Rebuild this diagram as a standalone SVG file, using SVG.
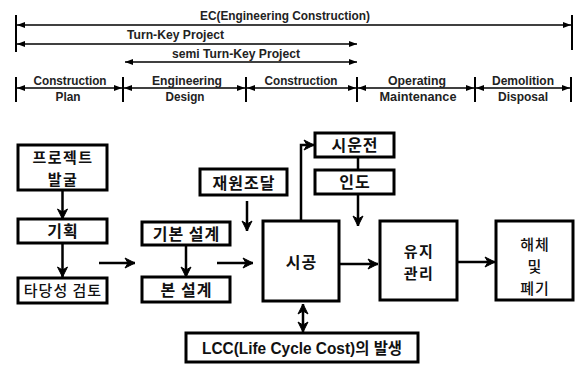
<svg xmlns="http://www.w3.org/2000/svg" width="578" height="365" viewBox="0 0 578 365">
<style>
.bg{fill:#fff}
.bar{stroke:#000;stroke-width:2;fill:none}
.tl{stroke:#000;stroke-width:1.5;fill:none}
.t{font-family:"Liberation Sans","Noto Sans CJK KR",sans-serif;font-weight:bold;font-size:13px;fill:#222;text-anchor:middle}
.box{fill:#fff;stroke:#000;stroke-width:3}
.k{font-family:"Noto Sans CJK KR",sans-serif;font-weight:bold;font-size:16px;letter-spacing:1px;fill:#111;text-anchor:middle}
.k2{font-family:"Noto Sans CJK KR",sans-serif;font-weight:bold;font-size:15px;letter-spacing:1.5px;fill:#111;text-anchor:middle}
.kn{font-family:"Noto Sans CJK KR",sans-serif;font-weight:500;font-size:15px;letter-spacing:1px;fill:#111;text-anchor:middle}
.lcc{font-family:"Liberation Sans","Noto Sans CJK KR",sans-serif;font-weight:bold;font-size:16px;fill:#111;text-anchor:middle}
.c{stroke:#000;stroke-width:2.5;fill:none}
</style>
<defs>
<marker id="ah" viewBox="0 0 8 6" refX="8" refY="3" markerWidth="8" markerHeight="6" markerUnits="userSpaceOnUse" orient="auto-start-reverse">
<path d="M0,0 L8,3 L0,6 z" fill="#000"/>
</marker>
<marker id="bh" viewBox="0 0 12 12" refX="11" refY="6" markerWidth="12" markerHeight="12" markerUnits="userSpaceOnUse" orient="auto-start-reverse">
<path d="M1,1 L11,6 L1,11 L4,6 z" fill="#000" stroke="#000" stroke-width="1"/>
</marker>
</defs>
<rect class="bg" x="0" y="0" width="578" height="365"/>

<g id="scope">
<line class="bar" x1="16" y1="15" x2="16" y2="52"/>
<line class="bar" x1="572" y1="15" x2="572" y2="50"/>
<line class="tl" x1="17" y1="25" x2="571" y2="25" marker-start="url(#ah)" marker-end="url(#ah)"/>
<text class="t" x="285" y="20" textLength="170" lengthAdjust="spacingAndGlyphs">EC(Engineering Construction)</text>
<line class="tl" x1="17" y1="44" x2="357" y2="44" marker-start="url(#ah)" marker-end="url(#ah)"/>
<text class="t" x="175.5" y="39" textLength="97" lengthAdjust="spacingAndGlyphs">Turn-Key Project</text>
<line class="tl" x1="125" y1="62" x2="357" y2="62" marker-start="url(#ah)" marker-end="url(#ah)"/>
<text class="t" x="236" y="58" textLength="128" lengthAdjust="spacingAndGlyphs">semi Turn-Key Project</text>
</g>

<g id="phases">
<line class="bar" x1="16" y1="77" x2="16" y2="102"/>
<line class="bar" x1="123" y1="77" x2="123" y2="102"/>
<line class="bar" x1="246" y1="77" x2="246" y2="102"/>
<line class="bar" x1="357" y1="77" x2="357" y2="102"/>
<line class="bar" x1="475" y1="77" x2="475" y2="102"/>
<line class="bar" x1="571" y1="77" x2="571" y2="102"/>
<line class="tl" x1="17" y1="88" x2="122" y2="88" marker-start="url(#ah)" marker-end="url(#ah)"/>
<line class="tl" x1="124" y1="88" x2="245" y2="88" marker-start="url(#ah)" marker-end="url(#ah)"/>
<line class="tl" x1="247" y1="88" x2="356" y2="88" marker-start="url(#ah)" marker-end="url(#ah)"/>
<line class="tl" x1="358" y1="88" x2="474" y2="88" marker-start="url(#ah)" marker-end="url(#ah)"/>
<line class="tl" x1="476" y1="88" x2="570" y2="88" marker-start="url(#ah)" marker-end="url(#ah)"/>
<text class="t" x="70" y="85" textLength="73" lengthAdjust="spacingAndGlyphs">Construction</text>
<text class="t" x="68" y="101" textLength="25" lengthAdjust="spacingAndGlyphs">Plan</text>
<text class="t" x="187" y="85" textLength="70" lengthAdjust="spacingAndGlyphs">Engineering</text>
<text class="t" x="185" y="101" textLength="39" lengthAdjust="spacingAndGlyphs">Design</text>
<text class="t" x="301" y="85" textLength="73" lengthAdjust="spacingAndGlyphs">Construction</text>
<text class="t" x="417" y="85" textLength="58" lengthAdjust="spacingAndGlyphs">Operating</text>
<text class="t" x="418" y="101" textLength="77" lengthAdjust="spacingAndGlyphs">Maintenance</text>
<text class="t" x="523" y="85" textLength="62" lengthAdjust="spacingAndGlyphs">Demolition</text>
<text class="t" x="523" y="101" textLength="50" lengthAdjust="spacingAndGlyphs">Disposal</text>
</g>

<g id="connectors">
<line class="c" x1="62.5" y1="190" x2="62.5" y2="219" marker-end="url(#bh)"/>
<line class="c" x1="62.5" y1="243" x2="62.5" y2="277" marker-end="url(#bh)"/>
<line class="c" x1="99" y1="263" x2="135" y2="263" marker-end="url(#bh)"/>
<line class="c" x1="247" y1="201" x2="247" y2="231" marker-end="url(#bh)"/>
<line class="c" x1="186" y1="245" x2="186" y2="277" marker-end="url(#bh)"/>
<line class="c" x1="217" y1="263" x2="253" y2="263" marker-end="url(#bh)"/>
<line class="c" x1="339" y1="264" x2="378" y2="264" marker-end="url(#bh)"/>
<line class="c" x1="457" y1="262" x2="495" y2="262" marker-end="url(#bh)"/>
<polyline class="c" points="301,221 301,145 314,145" marker-end="url(#bh)"/>
<line class="c" x1="358" y1="157" x2="358" y2="170"/>
<line class="c" x1="358" y1="194" x2="358" y2="226" marker-end="url(#bh)"/>
<line class="c" x1="303" y1="304" x2="303" y2="332" marker-start="url(#bh)" marker-end="url(#bh)"/>
</g>

<g id="n-project"><rect class="box" x="18" y="145" width="89" height="45"/>
<text class="k2" x="63" y="163">프로젝트</text><text class="k2" x="63" y="185">발굴</text></g>
<g id="n-plan"><rect class="box" x="18" y="219" width="89" height="24"/>
<text class="k" x="63" y="237">기획</text></g>
<g id="n-feasibility"><rect class="box" x="18" y="278" width="89" height="25"/>
<text class="kn" x="63" y="296">타당성 검토</text></g>
<g id="n-funding"><rect class="box" x="200" y="169" width="87" height="26"/>
<text class="k" x="244" y="189">재원조달</text></g>
<g id="n-basic"><rect class="box" x="142" y="222" width="88" height="23"/>
<text class="k" x="186.5" y="240">기본 설계</text></g>
<g id="n-detail"><rect class="box" x="142" y="277" width="88" height="25"/>
<text class="k" x="186.5" y="296">본 설계</text></g>
<g id="n-trial"><rect class="box" x="315" y="133" width="79" height="24"/>
<text class="k" x="355" y="151">시운전</text></g>
<g id="n-handover"><rect class="box" x="315" y="170" width="79" height="24"/>
<text class="k" x="355" y="188">인도</text></g>
<g id="n-construction"><rect class="box" x="263" y="221" width="76" height="80"/>
<text class="k" x="301.5" y="268">시공</text></g>
<g id="n-maintenance"><rect class="box" x="380" y="221" width="77" height="79"/>
<text class="k2" x="419" y="257">유지</text><text class="k2" x="419" y="279">관리</text></g>
<g id="n-demolition"><rect class="box" x="496" y="221" width="77" height="79"/>
<text class="kn" x="535" y="250">해체</text><text class="kn" x="535" y="272">및</text><text class="kn" x="535" y="294">폐기</text></g>
<g id="n-lcc"><rect class="box" x="186" y="333" width="232" height="29"/>
<text class="lcc" x="302" y="354" textLength="200" lengthAdjust="spacingAndGlyphs">LCC(Life Cycle Cost)의 발생</text></g>
</svg>
